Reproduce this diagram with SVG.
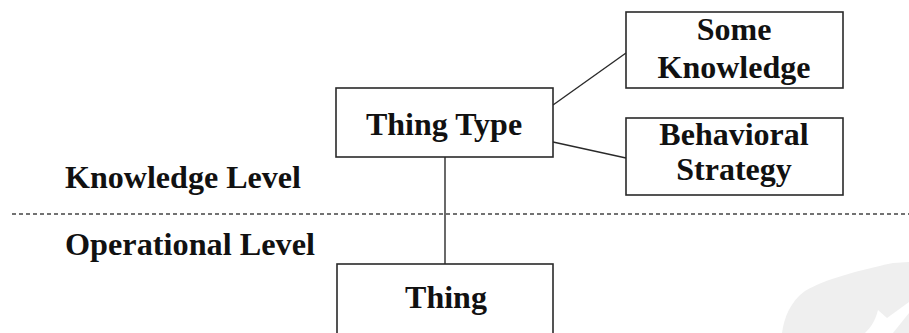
<svg xmlns="http://www.w3.org/2000/svg" width="909" height="333" viewBox="0 0 909 333">
  <style>
    .box { fill: #ffffff; stroke: #2a2a2a; stroke-width: 1.6; }
    .lbl { font-family: "Liberation Serif", "Times New Roman", serif; font-weight: bold; font-size: 32px; fill: #111111; }
    .mid { text-anchor: middle; }
    .conn { stroke: #2a2a2a; stroke-width: 1.4; fill: none; }
    .divider { stroke: #444444; stroke-width: 1.6; stroke-dasharray: 4 3; fill: none; }
  </style>
  <rect width="909" height="333" fill="#ffffff"/>
  <g id="watermark">
    <path d="M782,333 C784,318 790,302 805,291 C825,279 860,270 893,263 L909,262 L909,333 Z" fill="#efefef"/>
    <path d="M878,310 L887,318 L909,302 L909,313 L893,333 L865,333 C870,328 875,322 878,310 Z" fill="#ffffff"/>
  </g>
  <g id="divider">
    <line class="divider" x1="12" y1="214" x2="909" y2="214"/>
  </g>
  <g id="connectors">
    <line class="conn" x1="553" y1="105" x2="626" y2="53"/>
    <line class="conn" x1="553" y1="142" x2="626" y2="158"/>
    <line class="conn" x1="445" y1="157" x2="445" y2="264"/>
  </g>
  <g id="knowledge-level-label">
    <text class="lbl" x="65" y="188" textLength="236" lengthAdjust="spacingAndGlyphs">Knowledge Level</text>
  </g>
  <g id="operational-level-label">
    <text class="lbl" x="65" y="255" textLength="250" lengthAdjust="spacingAndGlyphs">Operational Level</text>
  </g>
  <g id="thing-type">
    <rect class="box" x="336" y="88" width="217" height="69"/>
    <text class="lbl mid" x="444" y="135">Thing Type</text>
  </g>
  <g id="some-knowledge">
    <rect class="box" x="626" y="12" width="217" height="76"/>
    <text class="lbl mid" x="734" y="40">Some</text>
    <text class="lbl mid" x="734" y="78">Knowledge</text>
  </g>
  <g id="behavioral-strategy">
    <rect class="box" x="626" y="118" width="217" height="77"/>
    <text class="lbl mid" x="734" y="145">Behavioral</text>
    <text class="lbl mid" x="734" y="180">Strategy</text>
  </g>
  <g id="thing">
    <rect class="box" x="337" y="264" width="216" height="80"/>
    <text class="lbl mid" x="446" y="308">Thing</text>
  </g>
</svg>
